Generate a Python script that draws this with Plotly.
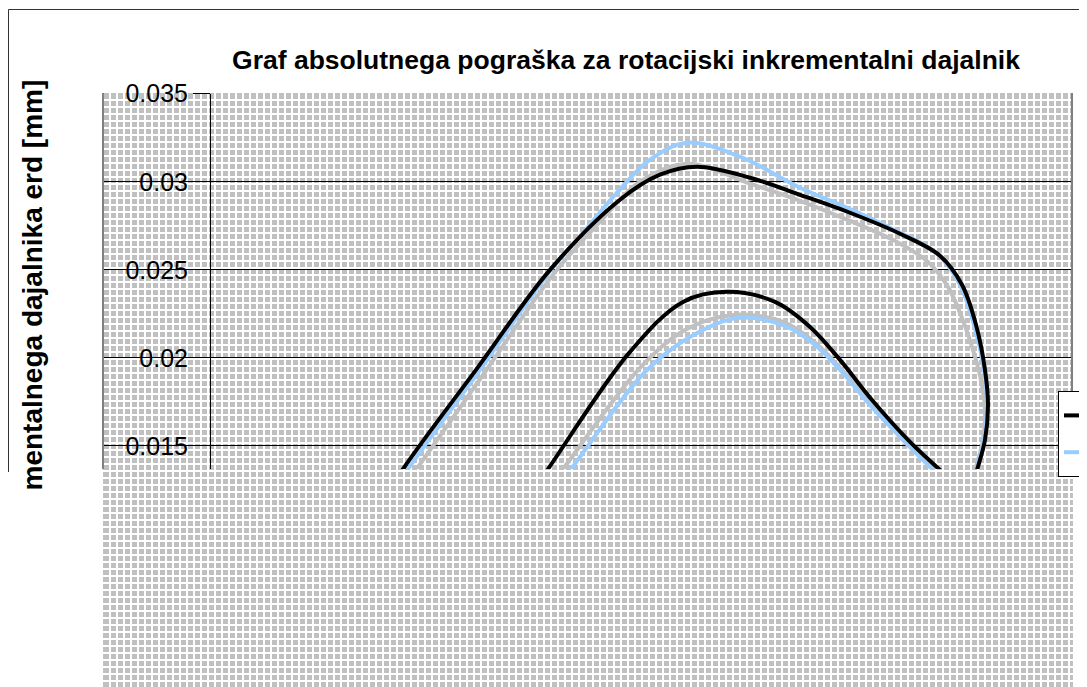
import plotly.graph_objects as go

W, H = 1087, 687
OFF = 8  # stran ima privzeti rob 8 px

# Meritve (x v poljubnih enotah, y = absolutni pogrešek v mm); None loči zunanji in notranji lok
crna_x = [3.22, 3.86, 5.32, 6.80, 8.20, 9.00, 9.74, 10.80, 11.80, 12.80, 13.80, 14.60, 15.04, 15.32, 15.50, 15.56, 15.50, 15.34, 15.08,
          None,
          6.06, 6.76, 8.40, 9.46, 10.34, 11.30, 12.00, 12.60, 13.24, 14.00, 14.60, 15.30]
crna_y = [0.01080, 0.01369, 0.01932, 0.02500, 0.02898, 0.03040, 0.03085, 0.03023, 0.02926, 0.02824, 0.02705, 0.02580, 0.02415, 0.02188, 0.01932, 0.01733, 0.01534, 0.01364, 0.01136,
          None,
          0.01080, 0.01369, 0.02034, 0.02318, 0.02375, 0.02318, 0.02176, 0.01989, 0.01761, 0.01523, 0.01364, 0.01193]

modra_x = [3.28, 3.96, 5.40, 6.82, 7.46, 8.14, 8.80, 9.54, 10.60, 11.80, 12.70, 13.60, 14.52, 14.98, 15.28, 15.48, 15.54, 15.48, 15.32, 15.06,
           None,
           6.44, 7.22, 8.70, 9.60, 10.54, 11.50, 12.10, 12.64, 13.20, 13.90, 14.44, 15.10]
modra_y = [0.01080, 0.01369, 0.01932, 0.02500, 0.02710, 0.02938, 0.03125, 0.03222, 0.03142, 0.02966, 0.02858, 0.02739, 0.02597, 0.02426, 0.02188, 0.01932, 0.01733, 0.01534, 0.01364, 0.01136,
           None,
           0.01080, 0.01369, 0.01920, 0.02119, 0.02227, 0.02182, 0.02074, 0.01920, 0.01733, 0.01523, 0.01369, 0.01193]

siva_x = [3.42, 4.12, 5.50, 6.86, 7.80, 8.60, 9.56, 10.80, 11.80, 12.80, 13.66, 14.36, 14.76, 15.04, 15.26, 15.42, 15.50, 15.46, 15.30, 15.04,
          None,
          6.28, 7.06, 8.60, 9.50, 10.46, 11.46, 12.06, 12.62, 13.20, 13.92, 14.48, 15.16]
siva_y = [0.01080, 0.01364, 0.01920, 0.02472, 0.02773, 0.03000, 0.03102, 0.02989, 0.02892, 0.02778, 0.02670, 0.02545, 0.02403, 0.02227, 0.02045, 0.01875, 0.01705, 0.01534, 0.01364, 0.01136,
          None,
          0.01080, 0.01369, 0.01943, 0.02159, 0.02244, 0.02205, 0.02097, 0.01938, 0.01739, 0.01517, 0.01364, 0.01182]

FONT = "Liberation Sans, Arial, sans-serif"


def fx(p):
    return (p - OFF) / W


def fy(p):
    return 1 - (p - OFF) / H


fig = go.Figure()

# prazna sled za vzorec ozadja (mreža)
fig.add_trace(go.Scatter(x=[None], y=[None], xaxis="x", yaxis="y",
                         showlegend=False, hoverinfo="skip"))

fig.add_trace(go.Scatter(x=siva_x, y=siva_y, mode="lines", name="Meritev 3",
                         line=dict(color="#c0c0c0", width=4, shape="spline"),
                         xaxis="x2", yaxis="y2", showlegend=False))
fig.add_trace(go.Scatter(x=modra_x, y=modra_y, mode="lines", name="Meritev 2",
                         line=dict(color="#99ccff", width=4, shape="spline"),
                         xaxis="x2", yaxis="y2", legendrank=2))
fig.add_trace(go.Scatter(x=crna_x, y=crna_y, mode="lines", name="Meritev 1",
                         line=dict(color="#000000", width=4, shape="spline"),
                         xaxis="x2", yaxis="y2", legendrank=1))

fig.update_layout(
    width=W, height=H,
    margin=dict(l=0, r=0, t=0, b=0, autoexpand=False),
    paper_bgcolor="white",
    plot_bgcolor="rgba(0,0,0,0)",
    font=dict(family=FONT, color="black"),
    title=dict(text="<b>Graf absolutnega pograška za rotacijski inkrementalni dajalnik</b>",
               x=fx(626), y=fy(60), xanchor="center", yanchor="middle",
               xref="paper", yref="paper",
               font=dict(family=FONT, size=26.5, color="black")),
    # vzorec ozadja
    xaxis=dict(domain=[fx(103), fx(1073)], range=[0, 970], dtick=7, tick0=0,
               showgrid=True, gridcolor="white", gridwidth=2,
               showticklabels=False, zeroline=False, ticks="", fixedrange=True),
    yaxis=dict(domain=[0, fy(93)], range=[0, 602], dtick=7, tick0=0,
               showgrid=True, gridcolor="white", gridwidth=2,
               showticklabels=False, zeroline=False, ticks="", fixedrange=True),
    # glavni graf
    xaxis2=dict(domain=[fx(103), fx(1072)], range=[-2.14, 17.24], anchor="y2",
                showgrid=False, showticklabels=False, zeroline=False, showline=False, ticks=""),
    yaxis2=dict(domain=[fy(469), fy(93.5)], range=[0.013693, 0.03501], anchor="free",
                position=fx(210), dtick=0.005, tick0=0,
                showgrid=True, gridcolor="black", gridwidth=1, zeroline=False,
                showline=True, linecolor="black", linewidth=1,
                ticks="outside", ticklen=17, tickcolor="black",
                tickfont=dict(family=FONT, size=25, color="black")),
    legend=dict(x=fx(1058), y=fy(391), xanchor="left", yanchor="top",
                bgcolor="white", bordercolor="black", borderwidth=1,
                font=dict(family=FONT, size=26, color="black")),
    showlegend=True,
)

fig.add_annotation(text="<b>mentalnega dajalnika erd [mm]</b>", textangle=-90,
                   xref="paper", yref="paper", x=fx(32), y=fy(78),
                   xanchor="center", yanchor="top", showarrow=False,
                   font=dict(family=FONT, size=28, color="black"))

# sivo ozadje stene
fig.add_shape(type="rect", xref="paper", yref="paper", layer="below",
              x0=fx(103), x1=fx(1073), y0=0, y1=fy(93),
              fillcolor="#c0c0c0", line=dict(width=0))
# robovi risalne površine
for xp in (103, 1072):
    fig.add_shape(type="line", xref="paper", yref="paper",
                  x0=fx(xp), x1=fx(xp), y0=fy(93), y1=fy(469),
                  line=dict(color="#808080", width=2))
# zunanji okvir grafikona
fig.add_shape(type="line", xref="paper", yref="paper",
              x0=fx(8.5), x1=1, y0=fy(9.5), y1=fy(9.5), line=dict(color="#333333", width=1))
fig.add_shape(type="line", xref="paper", yref="paper",
              x0=fx(8.5), x1=fx(8.5), y0=fy(9.5), y1=fy(472), line=dict(color="#333333", width=1))

fig.write_html("out.html")
